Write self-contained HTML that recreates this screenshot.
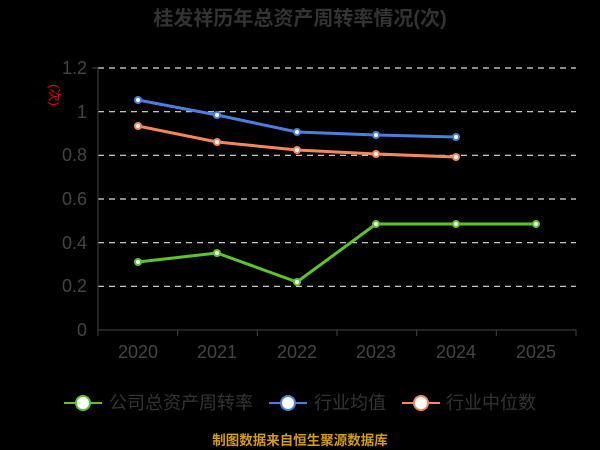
<!DOCTYPE html>
<html><head><meta charset="utf-8"><style>
html,body{margin:0;padding:0;background:#000;}
svg{display:block;font-family:"Liberation Sans","Noto Sans CJK SC",sans-serif;}
</style></head><body>
<svg width="600" height="450" viewBox="0 0 600 450">
<rect width="600" height="450" fill="#000"/>
<text x="300" y="25" text-anchor="middle" font-size="20" font-weight="bold" fill="#333">桂发祥历年总资产周转率情况(次)</text>
<text x="50" y="95" text-anchor="middle" font-size="13" fill="#e00" transform="rotate(90 50 95)">(次)</text>
<g stroke="#ddd" stroke-width="1.2" stroke-dasharray="6,5">
<line x1="98" y1="68" x2="576" y2="68"/>
<line x1="98" y1="111.7" x2="576" y2="111.7"/>
<line x1="98" y1="155.3" x2="576" y2="155.3"/>
<line x1="98" y1="199" x2="576" y2="199"/>
<line x1="98" y1="242.7" x2="576" y2="242.7"/>
<line x1="98" y1="286.3" x2="576" y2="286.3"/>
</g>
<g stroke="#444" stroke-width="1">
<line x1="98" y1="68" x2="98" y2="330"/>
<line x1="92" y1="68" x2="98" y2="68"/>
<line x1="98" y1="330" x2="576" y2="330"/>
<line x1="98" y1="330" x2="98" y2="336"/><line x1="177.7" y1="330" x2="177.7" y2="336"/><line x1="257.3" y1="330" x2="257.3" y2="336"/><line x1="337" y1="330" x2="337" y2="336"/><line x1="416.7" y1="330" x2="416.7" y2="336"/><line x1="496.3" y1="330" x2="496.3" y2="336"/><line x1="576" y1="330" x2="576" y2="336"/>
</g>
<g font-size="18" fill="#444" text-anchor="end">
<text x="87" y="74">1.2</text><text x="87" y="118">1</text><text x="87" y="161">0.8</text><text x="87" y="205">0.6</text><text x="87" y="249">0.4</text><text x="87" y="292">0.2</text><text x="87" y="336">0</text>
</g>
<g font-size="18" fill="#444" text-anchor="middle">
<text x="138" y="358">2020</text><text x="217" y="358">2021</text><text x="297" y="358">2022</text><text x="376" y="358">2023</text><text x="456" y="358">2024</text><text x="536" y="358">2025</text>
</g>
<polyline points="138,100 217,115 297,132 376,135 456,137" fill="none" stroke="#4a7fe0" stroke-width="3"/>
<polyline points="138,126 217,142 297,150 376,154 456,157" fill="none" stroke="#f5885a" stroke-width="3"/>
<polyline points="138,262 217,253 297,282 376,224 456,224 536,224" fill="none" stroke="#5cc52a" stroke-width="3"/>
<g fill="#fff" stroke-width="2">
<g stroke="#4a7fe0"><circle cx="138" cy="100" r="3"/><circle cx="217" cy="115" r="3"/><circle cx="297" cy="132" r="3"/><circle cx="376" cy="135" r="3"/><circle cx="456" cy="137" r="3"/></g>
<g stroke="#f5885a"><circle cx="138" cy="126" r="3"/><circle cx="217" cy="142" r="3"/><circle cx="297" cy="150" r="3"/><circle cx="376" cy="154" r="3"/><circle cx="456" cy="157" r="3"/></g>
<g stroke="#5cc52a"><circle cx="138" cy="262" r="3"/><circle cx="217" cy="253" r="3"/><circle cx="297" cy="282" r="3"/><circle cx="376" cy="224" r="3"/><circle cx="456" cy="224" r="3"/><circle cx="536" cy="224" r="3"/></g>
</g>
<g font-size="18" fill="#333">
<line x1="64" y1="403" x2="102" y2="403" stroke="#5cc52a" stroke-width="2"/><circle cx="83" cy="403" r="7" fill="#fff" stroke="#5cc52a" stroke-width="2"/>
<text x="109" y="409">公司总资产周转率</text>
<line x1="269" y1="403" x2="307" y2="403" stroke="#4a7fe0" stroke-width="2"/><circle cx="288" cy="403" r="7" fill="#fff" stroke="#4a7fe0" stroke-width="2"/>
<text x="314" y="409">行业均值</text>
<line x1="402" y1="403" x2="440" y2="403" stroke="#f5885a" stroke-width="2"/><circle cx="421" cy="403" r="7" fill="#fff" stroke="#f5885a" stroke-width="2"/>
<text x="446" y="409">行业中位数</text>
</g>
<text x="300" y="445" text-anchor="middle" font-size="13.5" font-weight="bold" fill="#d49a1a">制图数据来自恒生聚源数据库</text>
</svg>
</body></html>
